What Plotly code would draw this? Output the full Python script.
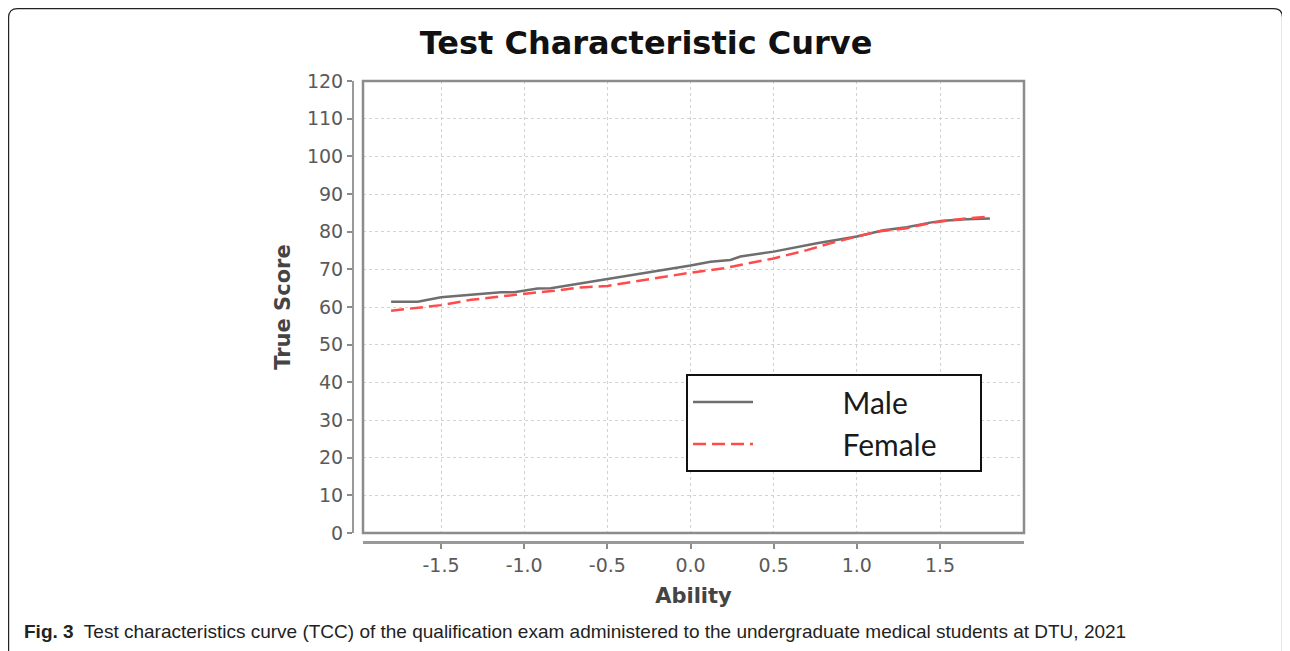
import plotly.graph_objects as go

# values
male_ability = [-1.8, -1.64, -1.5, -1.32, -1.14, -1.06, -0.92, -0.84, -0.66, -0.5, -0.32, -0.18,
                0.0, 0.12, 0.24, 0.30, 0.50, 0.76, 1.00, 1.16, 1.30, 1.44, 1.52, 1.66, 1.8]
male_score = [61.4, 61.4, 62.6, 63.2, 63.9, 63.9, 64.9, 65.0, 66.3, 67.4, 68.7, 69.6,
              71.0, 72.0, 72.5, 73.4, 74.7, 76.9, 78.7, 80.4, 81.2, 82.4, 82.9, 83.3, 83.5]

female_ability = [-1.8, -1.5, -1.32, -1.14, -0.98, -0.82, -0.66, -0.5, -0.32, -0.18, 0.0,
                  0.2, 0.5, 0.7, 0.84, 1.0, 1.12, 1.3, 1.44, 1.54, 1.66, 1.8]
female_score = [59.0, 60.5, 61.9, 62.9, 63.6, 64.3, 65.2, 65.6, 66.9, 67.9, 69.1,
                70.3, 72.9, 75.1, 76.9, 78.7, 80.0, 80.9, 82.3, 82.9, 83.5, 84.0]

x_ticks = [-1.5, -1.0, -0.5, 0.0, 0.5, 1.0, 1.5]
x_tick_labels = ["-1.5", "-1.0", "-0.5", "0.0", "0.5", "1.0", "1.5"]
y_ticks = list(range(0, 121, 10))

# the page body has an 8px margin, so the figure sits at (8, 8)
OFF = 8
W, H = 1290 - OFF, 651 - OFF
L, R, T, B = 353 - OFF, 266, 81 - OFF, 109
pw, ph = W - L - R, H - T - B


def px_x(v):
    # page pixel -> paper fraction
    return (v - OFF - L) / pw


def px_y(v):
    return 1 - (v - OFF - T) / ph


pad = "\u00a0" * 11
tail = "\u00a0" * 5

fig = go.Figure()
fig.add_trace(go.Scatter(x=male_ability, y=male_score, mode="lines", name=pad + "Male",
                         line=dict(color="#6e6e6e", width=2.5)))
fig.add_trace(go.Scatter(x=female_ability, y=female_score, mode="lines", name=pad + "Female" + tail,
                         line=dict(color="#ff4b4b", width=2.5, dash="13px,6px")))

tick_font = dict(family="DejaVu Sans", size=19, color="#5a5a5a")
title_font = dict(family="DejaVu Sans", size=21, color="#444444", weight="bold")

fig.update_layout(
    width=W, height=H,
    margin=dict(l=L, r=R, t=T, b=B),
    paper_bgcolor="white", plot_bgcolor="white",
    title=dict(text="Test Characteristic Curve", xref="container", yref="container",
               x=(646 - OFF) / W, y=1 - (43 - OFF) / H, xanchor="center", yanchor="middle",
               font=dict(family="DejaVu Sans", size=32, color="#111111", weight="bold")),
    xaxis=dict(range=[-1.969, 2.005], domain=[(363 - 353) / pw, 1], anchor="free", position=0,
               tickvals=x_ticks, ticktext=x_tick_labels, tickfont=tick_font,
               ticks="outside", ticklen=5, tickcolor="#8c8c8c", tickwidth=1.5,
               showline=True, linecolor="#999999", linewidth=3,
               showgrid=True, gridcolor="#d2d2d2", gridwidth=1, griddash="3px,3px",
               zeroline=False,
               title=dict(text="Ability", font=title_font, standoff=13)),
    yaxis=dict(range=[0, 120], domain=[(542 - 533) / ph, 1], anchor="free", position=0,
               tickvals=y_ticks, tickfont=tick_font,
               ticks="outside", ticklen=5, tickcolor="#8c8c8c", tickwidth=1.5,
               showline=True, linecolor="#999999", linewidth=2,
               showgrid=True, gridcolor="#d2d2d2", gridwidth=1, griddash="3px,3px",
               zeroline=False,
               title=dict(text="True Score", font=title_font, standoff=10)),
    legend=dict(x=px_x(686), y=px_y(374), xanchor="left", yanchor="top",
                bgcolor="white", bordercolor="#111111", borderwidth=2,
                font=dict(family="Lato", size=30, color="#1a1a1a"),
                itemwidth=60),
    showlegend=True,
)

# plot area border
fig.add_shape(type="rect", xref="x domain", yref="y domain", x0=0, x1=1, y0=0, y1=1,
              line=dict(color="#8c8c8c", width=2.5), layer="above")

# outer figure frame with rounded top corners
r = 9
fx0, fx1, fy0, fy1 = 8.6, 1282.5, 8.6, 700
path = (f"M {px_x(fx0)},{px_y(fy1)} L {px_x(fx0)},{px_y(fy0 + r)} "
        f"Q {px_x(fx0)},{px_y(fy0)} {px_x(fx0 + r)},{px_y(fy0)} "
        f"L {px_x(fx1 - r)},{px_y(fy0)} Q {px_x(fx1)},{px_y(fy0)} {px_x(fx1)},{px_y(fy0 + r)} "
        f"L {px_x(fx1)},{px_y(fy1)}")
fig.add_shape(type="path", xref="paper", yref="paper", path=path,
              line=dict(color="#222222", width=1.2))

fig.add_annotation(text="<b>Fig. 3</b>  Test characteristics curve (TCC) of the qualification exam "
                        "administered to the undergraduate medical students at DTU, 2021",
                   xref="paper", yref="paper", x=px_x(22), y=px_y(631), xanchor="left",
                   yanchor="middle", showarrow=False,
                   font=dict(family="Liberation Sans", size=19, color="#222222"))

fig.write_html("out.html")
